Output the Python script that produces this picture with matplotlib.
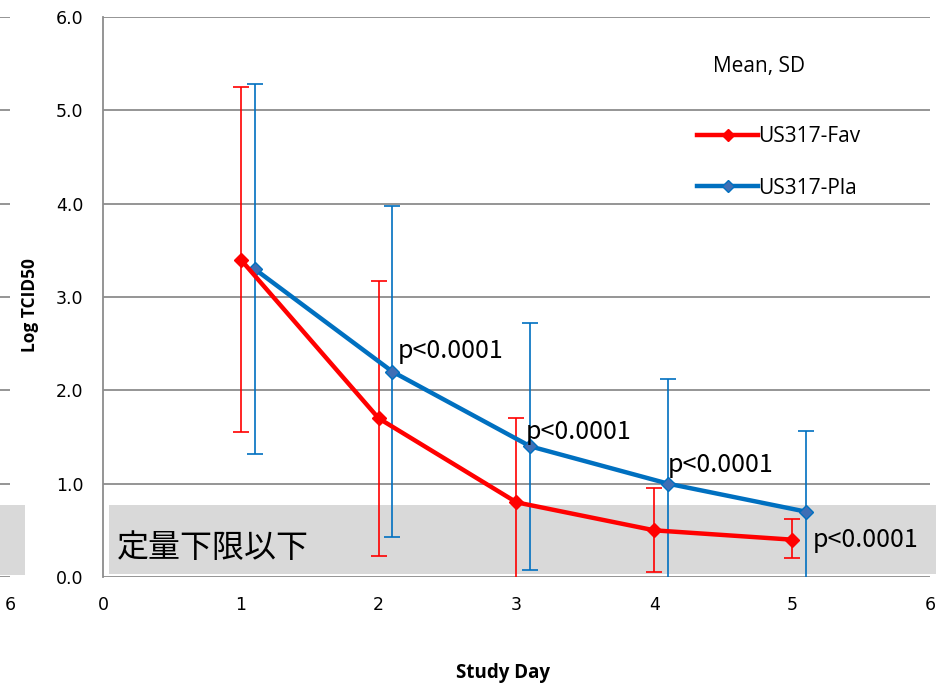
import matplotlib.pyplot as plt
from matplotlib.patches import Rectangle
from matplotlib.lines import Line2D

plt.rcParams['font.family'] = ['DejaVu Sans']

days = [1, 2, 3, 4, 5]
offset = 0.1
fav_mean = [3.40, 1.70, 0.80, 0.50, 0.40]
fav_upper = [5.25, 3.17, 1.70, 0.95, 0.62]
fav_lower = [1.55, 0.23, -0.15, 0.05, 0.20]
pla_mean = [3.30, 2.20, 1.40, 1.00, 0.70]
pla_upper = [5.28, 3.97, 2.72, 2.12, 1.56]
pla_lower = [1.32, 0.43, 0.08, -0.15, -0.15]
p_labels = ['p<0.0001', 'p<0.0001', 'p<0.0001', 'p<0.0001']
p_pos = [(2.14, 2.42), (3.07, 1.55), (4.10, 1.20), (5.15, 0.40)]
lloq = 0.77
lloq_label = '定量下限以下'

red = '#ff0000'
blue = '#0070c0'
grid_c = '#8c8c8c'

fig = plt.figure(figsize=(9.37, 6.86), dpi=100)

# neighbouring panel, only its right edge is in frame
ax0 = fig.add_axes([(10 - 800) / 937, 109 / 686, 800 / 937, 560 / 686])
ax0.set_xlim(0, 6)
ax0.set_ylim(0, 6)
ax0.set_xticks([6])
ax0.set_yticks([])
for y in range(7):
    ax0.axhline(y, color=grid_c, lw=1.3, zorder=1)
for s in ax0.spines.values():
    s.set_visible(False)
ax0.tick_params(length=0, labelsize=12.5, pad=14)
ax0.add_patch(Rectangle((0, 0.02), 6.11, lloq - 0.02, color='#d9d9d9',
                        lw=0, zorder=2, clip_on=False))

ax = fig.add_axes([103 / 937, 109 / 686, 827 / 937, 560 / 686])
ax.set_xlim(0, 6)
ax.set_ylim(0, 6)
ax.set_xticks(range(7))
ax.set_yticks(range(7))
ax.set_yticklabels([f'{v:.1f}' for v in range(7)])
for y in range(7):
    ax.axhline(y, color=grid_c, lw=1.3, zorder=1)
for name in ['top', 'right', 'bottom']:
    ax.spines[name].set_visible(False)
ax.spines['left'].set_color(grid_c)
ax.spines['left'].set_linewidth(1.3)
ax.tick_params(length=0, labelsize=12.5, pad=14)

ax.add_patch(Rectangle((0.045, 0.03), 6.05, lloq - 0.03, color='#d9d9d9',
                       lw=0, zorder=2, clip_on=False))
ax.text(0.1, 0.31, lloq_label, fontsize=23, va='center', ha='left',
        family=['Noto Sans CJK JP'], zorder=3)

pla_x = [d + offset for d in days]
ax.errorbar(days, fav_mean,
            yerr=[[m - l for m, l in zip(fav_mean, fav_lower)],
                  [u - m for m, u in zip(fav_mean, fav_upper)]],
            fmt='none', ecolor=red, elinewidth=1.2, capsize=6, capthick=1.2, zorder=4)
ax.errorbar(pla_x, pla_mean,
            yerr=[[m - l for m, l in zip(pla_mean, pla_lower)],
                  [u - m for m, u in zip(pla_mean, pla_upper)]],
            fmt='none', ecolor=blue, elinewidth=1.2, capsize=6, capthick=1.2, zorder=4)
ax.plot(pla_x, pla_mean, color=blue, lw=3.2, marker='D', ms=7,
        mfc='#3f6fb5', mec=blue, zorder=5)
ax.plot(days, fav_mean, color=red, lw=3.2, marker='D', ms=7,
        mfc=red, mec=red, zorder=6)

for txt, (px, py) in zip(p_labels, p_pos):
    ax.text(px, py, txt, fontsize=18, va='center', ha='left',
            family=['Noto Sans CJK JP'], zorder=7)

handles = [Line2D([], [], color=red, lw=3.2, marker='D', ms=6, mfc=red, mec=red),
           Line2D([], [], color=blue, lw=3.2, marker='D', ms=6, mfc='#3f6fb5', mec=blue)]
ax.legend(handles, ['US317-Fav', 'US317-Pla'], loc='center left',
          bbox_to_anchor=(0.7086, 0.740), frameon=False,
          handlelength=2.9, handletextpad=0.0, labelspacing=1.45,
          borderaxespad=0, prop={'family': 'Open Sans', 'size': 15})
ax.text(0.7376, 0.912, 'Mean, SD', transform=ax.transAxes, fontsize=15,
        family='Open Sans', va='center', ha='left')

fig.text(30 / 937, (686 - 305) / 686, 'Log TCID50', rotation=90, fontsize=12.5,
         fontweight='bold', family='Open Sans', va='center', ha='center')
fig.text(503 / 937, (686 - 673) / 686, 'Study Day', fontsize=13.5,
         fontweight='bold', family='Open Sans', va='center', ha='center')

fig.savefig('out.png', dpi=100)
